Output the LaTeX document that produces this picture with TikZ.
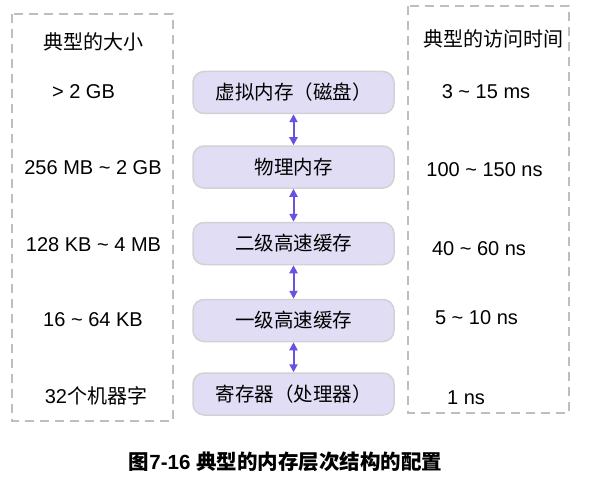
\documentclass[tikz,border=0pt]{standalone}
\usepackage{fontspec}
\setmainfont{Liberation Sans}
\newfontfamily\cjk{Noto Sans CJK SC}
\usetikzlibrary{arrows.meta}
\definecolor{boxfill}{RGB}{225,221,245}
\definecolor{boxline}{RGB}{210,210,212}
\definecolor{arrowc}{RGB}{108,80,224}
\definecolor{dashc}{RGB}{190,190,190}
\tikzset{
  levelbox/.style={draw=boxline, fill=boxfill, line width=1.5pt, rounded corners=11pt,
    minimum width=201pt, minimum height=42pt, inner sep=0pt, font=\fontsize{19.5}{22}\selectfont\cjk},
  txt/.style={inner sep=0pt, font=\fontsize{20}{22}\selectfont},
  cjktxt/.style={inner sep=0pt, font=\fontsize{20}{22}\selectfont\cjk},
  dashbox/.style={draw=dashc, line width=2pt, dash pattern=on 9pt off 6pt},
  link/.style={draw=arrowc, line width=2pt, {Triangle[width=8pt,length=8pt]}-{Triangle[width=8pt,length=8pt]}},
}
\begin{document}
\begin{tikzpicture}[x=1pt,y=-1pt]
\useasboundingbox (0,0) rectangle (594,484);
\draw[dashbox] (12,14) rectangle (173,421);
\draw[dashbox] (408,6) rectangle (569,413);
\node[levelbox] (b1) at (293.5,92.5) {虚拟内存（磁盘）};
\node[levelbox] (b2) at (293.5,167) {物理内存};
\node[levelbox] (b3) at (293.5,243.5) {二级高速缓存};
\node[levelbox] (b4) at (293.5,320.5) {一级高速缓存};
\node[levelbox] (b5) at (293.5,394) {寄存器（处理器）};
\draw[link] (b1.south) -- (b2.north);
\draw[link] (b2.south) -- (b3.north);
\draw[link] (b3.south) -- (b4.north);
\draw[link] (b4.south) -- (b5.north);
\node[cjktxt] (lh) at (93,42) {典型的大小};
\node[txt] (l1) at (83.5,92) {> 2 GB};
\node[txt] (l2) at (93,168) {256 MB \textasciitilde{} 2 GB};
\node[txt] (l3) at (93.5,245) {128 KB \textasciitilde{} 4 MB};
\node[txt] (l4) at (93,320) {16 \textasciitilde{} 64 KB};
\node[txt] (l5) at (96,396) {32{\cjk 个机器字}};
\node[cjktxt] (rh) at (493,39) {典型的访问时间};
\node[txt] (r1) at (486,92) {3 \textasciitilde{} 15 ms};
\node[txt] (r2) at (484.5,170) {100 \textasciitilde{} 150 ns};
\node[txt] (r3) at (479,249) {40 \textasciitilde{} 60 ns};
\node[txt] (r4) at (476.5,318) {5 \textasciitilde{} 10 ns};
\node[txt] (r5) at (466,398) {1 ns};
\node[inner sep=0pt, font=\fontsize{20.5}{22}\selectfont\bfseries] (cap) at (285.5,462) {{\cjk 图}7-16 {\cjk 典型的内存层次结构的配置}};
\end{tikzpicture}
\end{document}
